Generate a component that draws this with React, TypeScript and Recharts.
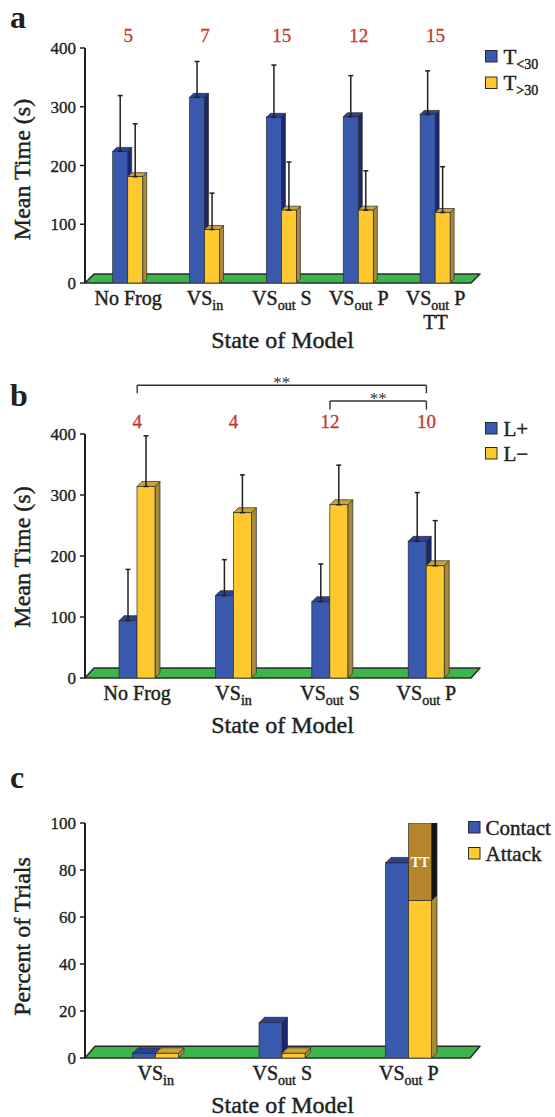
import React from 'react';
import {
  BarChart,
  Bar,
  XAxis,
  YAxis,
  ErrorBar,
  ReferenceArea,
  ReferenceLine,
  Legend,
  LabelList,
} from 'recharts';

const FONT = '"Liberation Serif", "Times New Roman", Times, serif';
const INK = '#231f20';
const RED = '#c8352b';
const EDGE = '#2b2b2b';
const GREEN = '#3cb64a';
const HEAVY = 0.45;

type Face = { front: string; side: string; top: string };
const BLUE: Face = { front: '#3859ad', side: '#1b2673', top: '#2c4290' };
const YELLOW: Face = { front: '#fdc92f', side: '#a68b3b', top: '#c9a238' };
const BROWN: Face = { front: '#b5852b', side: '#141414', top: '#8f6620' };

// ---------- Panel a ----------
const catsA = ['No Frog', 'VS_in', 'VS_out S', 'VS_out P', 'VS_out P\nTT'];
const nA = ['5', '7', '15', '12', '15'];
const tBelow30 = [224, 316, 282, 283, 287];
const tBelow30Err = [95, 61, 89, 70, 74];
const tAbove30 = [181, 91, 124, 124, 120];
const tAbove30Err = [90, 62, 82, 67, 78];
const legendA = ['T_<30', 'T_>30'];
const ticksA = [0, 100, 200, 300, 400];

// ---------- Panel b ----------
const catsB = ['No Frog', 'VS_in', 'VS_out S', 'VS_out P'];
const nB = ['4', '4', '12', '10'];
const lPlus = [94, 135, 125, 224];
const lPlusErr = [84, 59, 62, 80];
const lMinus = [314, 271, 284, 184];
const lMinusErr = [83, 62, 65, 74];
const legendB = ['L+', 'L\u2212'];
const ticksB = [0, 100, 200, 300, 400];
const bracketFrom = ['No Frog', 'VS_out S'];
const bracketTo = ['VS_out P', 'VS_out P'];
const bracketLevel = [480, 454];
const bracketFoot = [467, 440];
const bracketMark = ['**', '**'];

// ---------- Panel c ----------
const catsC = ['VS_in', 'VS_out S', 'VS_out P'];
const contact = [2, 15, 83];
const attack = [2, 2, 67];
const attackTT = [0, 0, 33];
const legendC = ['Contact', 'Attack'];
const ticksC = [0, 20, 40, 60, 80, 100];

// ---------- helpers ----------
function splitSub(s: string) {
  const m = s.match(/^([^_]*)_(\S+)(.*)$/);
  return m ? { pre: m[1], sub: m[2], post: m[3] } : { pre: s, sub: '', post: '' };
}

const RichLine = ({ s, subSize, shift }: any) => {
  const r = splitSub(s);
  return (
    <>
      {r.pre}
      {r.sub ? (
        <tspan fontSize={subSize} dy={shift}>
          {r.sub}
        </tspan>
      ) : null}
      {r.sub && r.post ? <tspan dy={-shift}>{r.post}</tspan> : null}
    </>
  );
};

const make3D = (depth: number, face: Face) => (p: any) => {
  const { x, y, width: w, height: h } = p;
  if (!(h > 0.3)) return <g />;
  const d = depth;
  return (
    <g>
      <polygon
        points={`${x + w},${y} ${x + w + d},${y - d} ${x + w + d},${y + h - d} ${x + w},${y + h}`}
        fill={face.side}
        stroke={EDGE}
        strokeWidth={0.7}
        strokeLinejoin="round"
      />
      <polygon
        points={`${x},${y} ${x + d},${y - d} ${x + w + d},${y - d} ${x + w},${y}`}
        fill={face.top}
        stroke={EDGE}
        strokeWidth={0.7}
        strokeLinejoin="round"
      />
      <rect x={x} y={y} width={w} height={h} fill={face.front} stroke={EDGE} strokeWidth={0.7} />
    </g>
  );
};

const makeFloor = (padL: number, padR: number, skew: number) => (p: any) => {
  const { x, y, width, height } = p;
  const xl = x - padL;
  const xr = x + width + padR;
  const b = y + height;
  return (
    <polygon
      points={`${xl},${b} ${xl + skew},${y} ${xr},${y} ${xr - skew},${b}`}
      fill={GREEN}
      stroke={EDGE}
      strokeWidth={1.6}
      strokeLinejoin="round"
    />
  );
};

const CatTick = (p: any) => {
  const { x, y, payload } = p;
  const lines = String(payload.value).split('\n');
  return (
    <text
      x={x}
      y={y}
      textAnchor="middle"
      fontFamily={FONT}
      fontSize={20}
      fill={INK}
      stroke={INK}
      strokeWidth={HEAVY}
      style={{ whiteSpace: 'pre' }}
    >
      {lines.map((ln, i) => (
        <tspan key={i} x={x} dy={i === 0 ? 14 : 24}>
          <RichLine s={ln} subSize={14} shift={5} />
        </tspan>
      ))}
    </text>
  );
};

const makeNTick = (vals: string[]) => (p: any) => (
  <text
    x={p.x}
    y={p.y}
    dy={1.5}
    textAnchor="middle"
    fontFamily={FONT}
    fontSize={19}
    fill={RED}
    stroke={RED}
    strokeWidth={0.3}
  >
    {vals[p.index]}
  </text>
);

const YTitle = ({ viewBox, text, shift }: any) => {
  const cx = viewBox.x + 30;
  const cy = viewBox.y + viewBox.height / 2 + shift;
  return (
    <text
      x={cx}
      y={cy}
      transform={`rotate(-90 ${cx} ${cy})`}
      textAnchor="middle"
      fontFamily={FONT}
      fontSize={24}
      fill={INK}
      stroke={INK}
      strokeWidth={HEAVY}
    >
      {text}
    </text>
  );
};

const XTitle = ({ viewBox, text, down }: any) => (
  <text
    x={viewBox.x + viewBox.width / 2}
    y={viewBox.y + down}
    textAnchor="middle"
    fontFamily={FONT}
    fontSize={24}
    fill={INK}
    stroke={INK}
    strokeWidth={HEAVY}
  >
    {text}
  </text>
);

const LegendSvg = ({ labels, faces, rowH, gap }: any) => (
  <svg width={80} height={rowH * labels.length + 8} style={{ overflow: 'visible', display: 'block' }}>
    {labels.map((l: string, i: number) => (
      <g key={i} transform={`translate(0 ${i * rowH})`}>
        <rect x={0.5} y={0.5} width={11.5} height={11.5} fill={faces[i].front} stroke={EDGE} strokeWidth={1} />
        <text
          x={12 + gap}
          y={13.5}
          fontFamily={FONT}
          fontSize={21}
          fill={INK}
          stroke={INK}
          strokeWidth={HEAVY}
          style={{ whiteSpace: 'pre' }}
        >
          <RichLine s={l} subSize={14} shift={5} />
        </text>
      </g>
    ))}
  </svg>
);

const yAxisCommon = {
  width: 85,
  allowDataOverflow: true,
  interval: 0 as const,
  tickSize: 5,
  tickMargin: 4,
  axisLine: { stroke: INK, strokeWidth: 2 },
  tickLine: { stroke: INK, strokeWidth: 1.5 },
  tick: { fontSize: 17, fill: INK, fontFamily: FONT, stroke: INK, strokeWidth: 0.35 },
};

const xAxisCommon = {
  dataKey: 'cat',
  axisLine: false,
  tickLine: false,
  tickSize: 0,
  tickMargin: 8,
  interval: 0 as const,
};

// ---------- Panel a ----------
const padA = { left: 4.7, right: 6 };
function PanelA() {
  const data = catsA.map((cat, i) => ({
    cat,
    below: tBelow30[i],
    belowErr: [0, tBelow30Err[i]],
    above: tAbove30[i],
    aboveErr: [0, tAbove30Err[i]],
  }));
  return (
    <BarChart width={555} height={360} data={data} margin={{ top: 28, right: 75, bottom: 0, left: 0 }} barGap={0}>
      <XAxis xAxisId="top" orientation="top" height={20} padding={padA} tick={makeNTick(nA)} {...(xAxisCommon as any)} />
      <XAxis
        height={77}
        padding={padA}
        tick={CatTick}
        label={<XTitle text="State of Model" down={65} />}
        {...(xAxisCommon as any)}
      />
      <YAxis domain={[0, 400]} ticks={ticksA} label={<YTitle text="Mean Time (s)" shift={4} />} {...(yAxisCommon as any)} />
      <ReferenceArea y1={0} y2={15.3} ifOverflow="visible" shape={makeFloor(padA.left, padA.right, 9)} />
      <Bar dataKey="below" fill={BLUE.front} barSize={15} isAnimationActive={false} shape={make3D(4, BLUE)}>
        <ErrorBar dataKey="belowErr" direction="y" width={2.5} stroke={INK} strokeWidth={1.5} />
      </Bar>
      <Bar dataKey="above" fill={YELLOW.front} barSize={15} isAnimationActive={false} shape={make3D(4, YELLOW)}>
        <ErrorBar dataKey="aboveErr" direction="y" width={2.5} stroke={INK} strokeWidth={1.5} />
      </Bar>
      <Legend
        layout="vertical"
        align="center"
        verticalAlign="middle"
        wrapperStyle={{ left: 485, top: 50, width: 80, height: 60 }}
        content={() => <LegendSvg labels={legendA} faces={[BLUE, YELLOW]} rowH={26.5} gap={6.5} />}
      />
    </BarChart>
  );
}

// ---------- Panel b ----------
const padB = { left: 4, right: 5.4 };
function PanelB() {
  const data = catsB.map((cat, i) => ({
    cat,
    plus: lPlus[i],
    plusErr: [0, lPlusErr[i]],
    minus: lMinus[i],
    minusErr: [0, lMinusErr[i]],
  }));
  return (
    <BarChart width={555} height={370} data={data} margin={{ top: 44, right: 75, bottom: 0, left: 0 }} barGap={0}>
      <XAxis xAxisId="top" orientation="top" height={20} padding={padB} tick={makeNTick(nB)} {...(xAxisCommon as any)} />
      <XAxis
        height={62}
        padding={padB}
        tick={CatTick}
        label={<XTitle text="State of Model" down={55} />}
        {...(xAxisCommon as any)}
      />
      <YAxis domain={[0, 400]} ticks={ticksB} label={<YTitle text="Mean Time (s)" shift={1} />} {...(yAxisCommon as any)} />
      <ReferenceArea y1={0} y2={16.4} ifOverflow="visible" shape={makeFloor(padB.left, padB.right, 9)} />
      {bracketFrom.map((from, i) => (
        <React.Fragment key={i}>
          <ReferenceLine
            segment={[
              { x: from, y: bracketLevel[i] },
              { x: bracketTo[i], y: bracketLevel[i] },
            ]}
            ifOverflow="visible"
            stroke="#333"
            strokeWidth={1.4}
            label={{ value: bracketMark[i], position: 'top', offset: -3, fill: '#333', fontSize: 17, fontFamily: FONT }}
          />
          <ReferenceLine
            segment={[
              { x: from, y: bracketLevel[i] },
              { x: from, y: bracketFoot[i] },
            ]}
            ifOverflow="visible"
            stroke="#333"
            strokeWidth={1.4}
          />
          <ReferenceLine
            segment={[
              { x: bracketTo[i], y: bracketLevel[i] },
              { x: bracketTo[i], y: bracketFoot[i] },
            ]}
            ifOverflow="visible"
            stroke="#333"
            strokeWidth={1.4}
          />
        </React.Fragment>
      ))}
      <Bar dataKey="plus" fill={BLUE.front} barSize={18} isAnimationActive={false} shape={make3D(5, BLUE)}>
        <ErrorBar dataKey="plusErr" direction="y" width={2.5} stroke={INK} strokeWidth={1.5} />
      </Bar>
      <Bar dataKey="minus" fill={YELLOW.front} barSize={18} isAnimationActive={false} shape={make3D(5, YELLOW)}>
        <ErrorBar dataKey="minusErr" direction="y" width={2.5} stroke={INK} strokeWidth={1.5} />
      </Bar>
      <Legend
        layout="vertical"
        align="center"
        verticalAlign="middle"
        wrapperStyle={{ left: 485, top: 52, width: 80, height: 60 }}
        content={() => <LegendSvg labels={legendB} faces={[BLUE, YELLOW]} rowH={25} gap={6.5} />}
      />
    </BarChart>
  );
}

// ---------- Panel c ----------
const padC = { left: 7.5, right: 8 };
const TTLabel = (p: any) => {
  const { x, y, width, height, value } = p;
  if (!value) return null;
  return (
    <text
      x={x + width / 2}
      y={y + height / 2}
      dy={5}
      textAnchor="middle"
      fontFamily={FONT}
      fontWeight="bold"
      fontSize={14}
      fill="#fff"
    >
      TT
    </text>
  );
};

function PanelC() {
  const data = catsC.map((cat, i) => ({ cat, contact: contact[i], attack: attack[i], tt: attackTT[i] }));
  return (
    <BarChart width={555} height={377} data={data} margin={{ top: 83, right: 75, bottom: 0, left: 0 }} barGap={0}>
      <XAxis
        height={59}
        padding={padC}
        tick={CatTick}
        label={<XTitle text="State of Model" down={55} />}
        {...(xAxisCommon as any)}
      />
      <YAxis domain={[0, 100]} ticks={ticksC} label={<YTitle text="Percent of Trials" shift={-4} />} {...(yAxisCommon as any)} />
      <ReferenceArea y1={0} y2={5} ifOverflow="visible" shape={makeFloor(padC.left, padC.right, 10)} />
      <Bar dataKey="contact" stackId="con" fill={BLUE.front} barSize={23} isAnimationActive={false} shape={make3D(5.5, BLUE)} />
      <Bar dataKey="attack" stackId="att" fill={YELLOW.front} barSize={23} isAnimationActive={false} shape={make3D(5.5, YELLOW)} />
      <Bar dataKey="tt" stackId="att" fill={BROWN.front} barSize={23} isAnimationActive={false} shape={make3D(5.5, BROWN)}>
        <LabelList dataKey="tt" content={TTLabel} />
      </Bar>
      <Legend
        layout="vertical"
        align="center"
        verticalAlign="middle"
        wrapperStyle={{ left: 468, top: 81, width: 90, height: 60 }}
        content={() => <LegendSvg labels={legendC} faces={[BLUE, YELLOW]} rowH={26} gap={5.5} />}
      />
    </BarChart>
  );
}

const panelLetters = ['a', 'b', 'c'];
const letterBaselines = [28, 406, 788];

export default function App() {
  return (
    <div style={{ position: 'absolute', left: 0, top: 0, width: 555, height: 1117, background: '#fff' }}>
      <div style={{ position: 'absolute', left: 0, top: 0 }}>
        <PanelA />
      </div>
      <div style={{ position: 'absolute', left: 0, top: 370 }}>
        <PanelB />
      </div>
      <div style={{ position: 'absolute', left: 0, top: 740 }}>
        <PanelC />
      </div>
      <svg
        width={555}
        height={1117}
        style={{ position: 'absolute', left: 0, top: 0, pointerEvents: 'none' }}
      >
        {panelLetters.map((l, i) => (
          <text key={l} x={10} y={letterBaselines[i]} fontFamily={FONT} fontWeight="bold" fontSize={32} fill={INK}>
            {l}
          </text>
        ))}
      </svg>
    </div>
  );
}
